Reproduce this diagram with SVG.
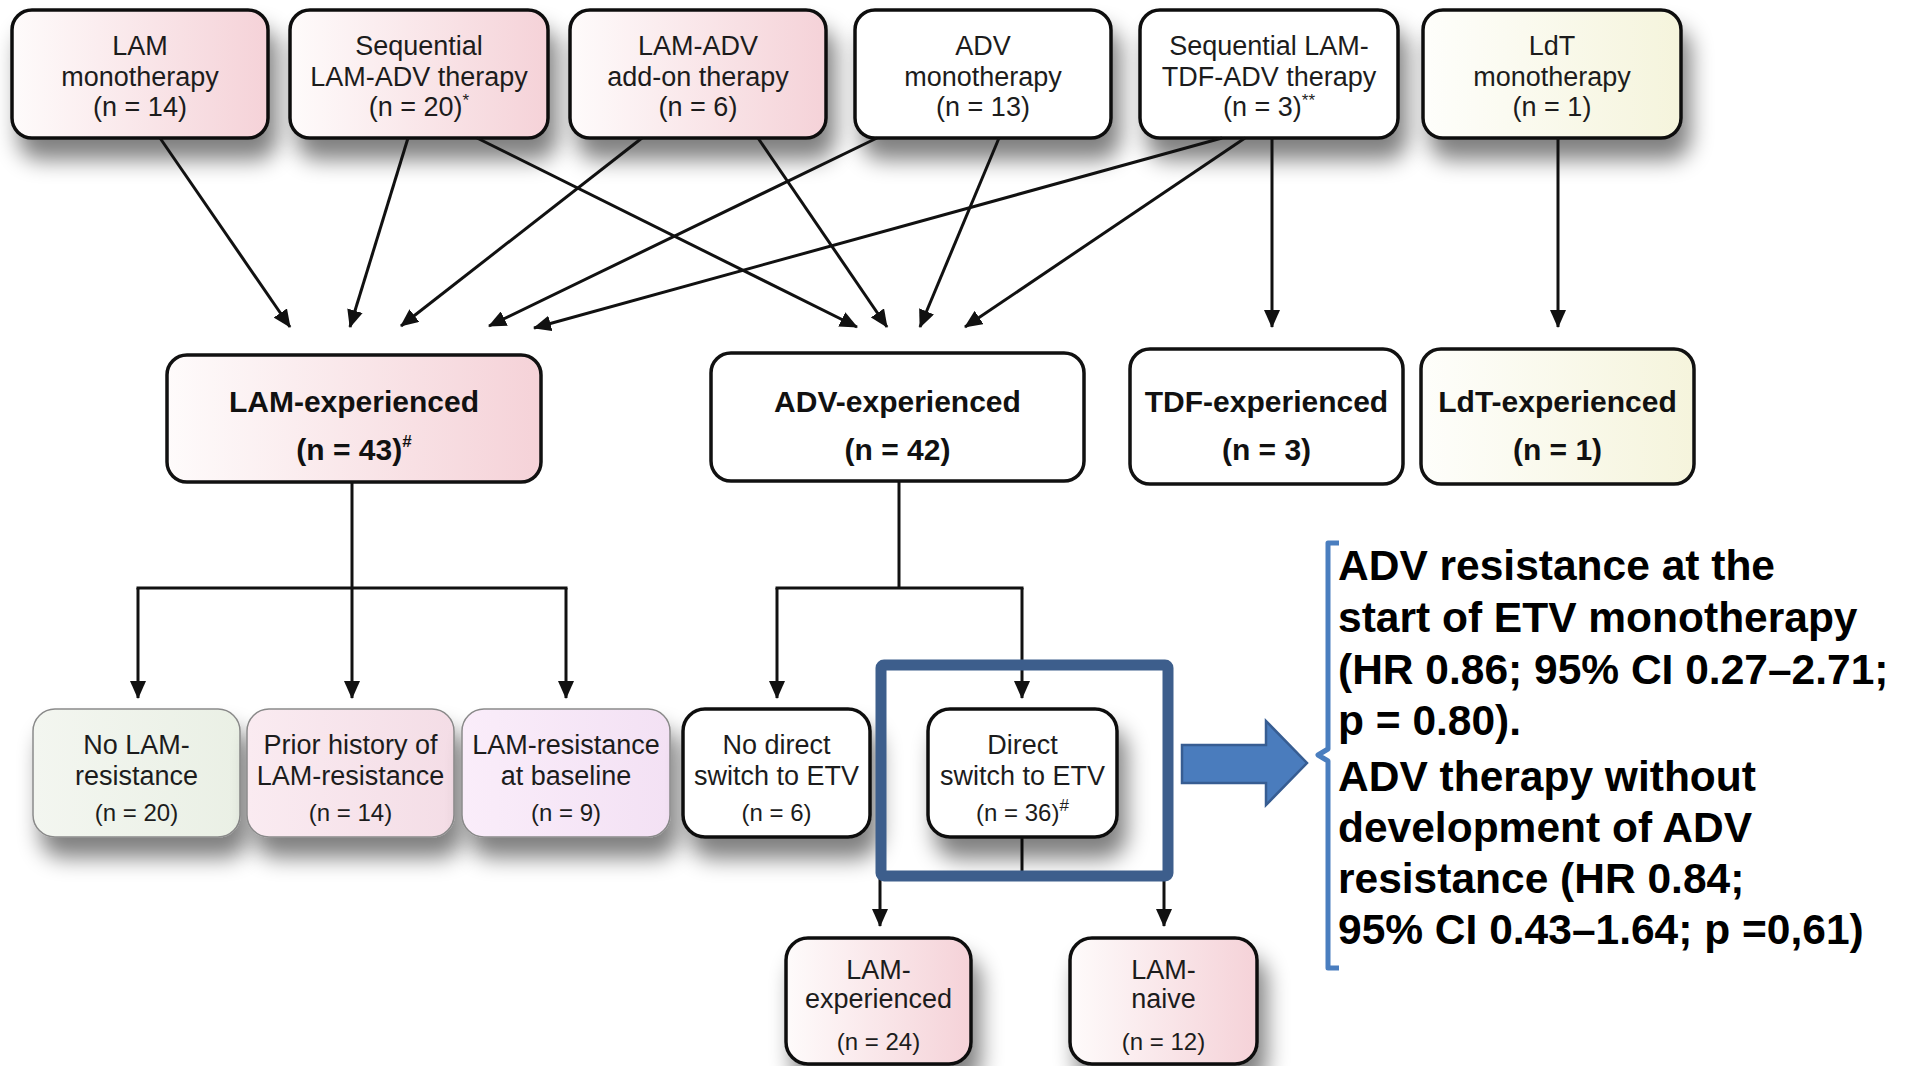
<svg xmlns="http://www.w3.org/2000/svg" width="1910" height="1066" viewBox="0 0 1910 1066">
  <defs>
    <linearGradient id="gPink" x1="0" y1="0" x2="1" y2="0">
      <stop offset="0" stop-color="#fefbfb"/>
      <stop offset="1" stop-color="#f5d2d8"/>
    </linearGradient>
    <linearGradient id="gYellow" x1="0" y1="0" x2="1" y2="0">
      <stop offset="0" stop-color="#fefefb"/>
      <stop offset="1" stop-color="#f5f4dc"/>
    </linearGradient>
    <linearGradient id="gGreen" x1="0" y1="0" x2="1" y2="0">
      <stop offset="0" stop-color="#f3f6f0"/>
      <stop offset="1" stop-color="#eaf0e5"/>
    </linearGradient>
    <linearGradient id="gRose" x1="0" y1="0" x2="1" y2="0">
      <stop offset="0" stop-color="#faebf1"/>
      <stop offset="1" stop-color="#f4dde6"/>
    </linearGradient>
    <linearGradient id="gLilac" x1="0" y1="0" x2="1" y2="0">
      <stop offset="0" stop-color="#faedfa"/>
      <stop offset="1" stop-color="#f3e1f4"/>
    </linearGradient>
    <filter id="shadow" x="-20%" y="-30%" width="150%" height="210%">
      <feGaussianBlur in="SourceAlpha" stdDeviation="11"/>
      <feOffset dx="8" dy="20"/>
      <feComponentTransfer>
        <feFuncA type="linear" slope="0.5"/>
      </feComponentTransfer>
      <feMerge>
        <feMergeNode/>
        <feMergeNode in="SourceGraphic"/>
      </feMerge>
    </filter>
    <marker id="ah" markerUnits="userSpaceOnUse" markerWidth="18" markerHeight="16" viewBox="0 0 18 16" refX="17" refY="8" orient="auto">
      <path d="M0,0 L18,8 L0,16 z" fill="#111"/>
    </marker>
    <style>
      .box { stroke: #111; stroke-width: 3.5; }
      .soft { stroke: #8a8a8a; stroke-width: 1.5; }
      .tn { font-family: "Liberation Sans", Arial, Helvetica, sans-serif; font-size: 27px; text-anchor: middle; fill: #1c1c1c; }
      .ts { font-family: "Liberation Sans", Arial, Helvetica, sans-serif; font-size: 24px; text-anchor: middle; fill: #1c1c1c; }
      .tb { font-family: "Liberation Sans", Arial, Helvetica, sans-serif; font-size: 30px; font-weight: bold; text-anchor: middle; fill: #111; }
      .rt { font-family: "Liberation Sans", Arial, Helvetica, sans-serif; font-size: 42.5px; font-weight: bold; fill: #000; }
      .sup { font-size: 17px; }
      .conn { stroke: #111; stroke-width: 3; fill: none; }
      .arr { marker-end: url(#ah); }
    </style>
  </defs>

  <rect width="1910" height="1066" fill="#ffffff"/>

  <!-- Top row: prior therapy groups -->
  <g id="n-lam-mono">
    <rect class="box" x="12" y="10" width="256" height="128" rx="20" fill="url(#gPink)" filter="url(#shadow)"/>
    <text class="tn" x="140" y="55">LAM</text>
    <text class="tn" x="140" y="86">monotherapy</text>
    <text class="tn" x="140" y="116">(n = 14)</text>
  </g>
  <g id="n-seq-lam-adv">
    <rect class="box" x="290" y="10" width="258" height="128" rx="20" fill="url(#gPink)" filter="url(#shadow)"/>
    <text class="tn" x="419" y="55">Sequential</text>
    <text class="tn" x="419" y="86">LAM-ADV therapy</text>
    <text class="tn" x="419" y="116">(n = 20)<tspan class="sup" dy="-10">*</tspan></text>
  </g>
  <g id="n-lam-adv-addon">
    <rect class="box" x="570" y="10" width="256" height="128" rx="20" fill="url(#gPink)" filter="url(#shadow)"/>
    <text class="tn" x="698" y="55">LAM-ADV</text>
    <text class="tn" x="698" y="86">add-on therapy</text>
    <text class="tn" x="698" y="116">(n = 6)</text>
  </g>
  <g id="n-adv-mono">
    <rect class="box" x="855" y="10" width="256" height="128" rx="20" fill="#ffffff" filter="url(#shadow)"/>
    <text class="tn" x="983" y="55">ADV</text>
    <text class="tn" x="983" y="86">monotherapy</text>
    <text class="tn" x="983" y="116">(n = 13)</text>
  </g>
  <g id="n-seq-lam-tdf-adv">
    <rect class="box" x="1140" y="10" width="258" height="128" rx="20" fill="#ffffff" filter="url(#shadow)"/>
    <text class="tn" x="1269" y="55">Sequential LAM-</text>
    <text class="tn" x="1269" y="86">TDF-ADV therapy</text>
    <text class="tn" x="1269" y="116">(n = 3)<tspan class="sup" dy="-10">**</tspan></text>
  </g>
  <g id="n-ldt-mono">
    <rect class="box" x="1423" y="10" width="258" height="128" rx="20" fill="url(#gYellow)" filter="url(#shadow)"/>
    <text class="tn" x="1552" y="55">LdT</text>
    <text class="tn" x="1552" y="86">monotherapy</text>
    <text class="tn" x="1552" y="116">(n = 1)</text>
  </g>

  <!-- Connectors -->
  <g id="connectors">
    <line class="conn arr" x1="160" y1="138" x2="290" y2="327"/>
    <line class="conn arr" x1="408" y1="138" x2="350" y2="327"/>
    <line class="conn arr" x1="642" y1="138" x2="401" y2="326"/>
    <line class="conn arr" x1="877" y1="138" x2="489" y2="326"/>
    <line class="conn arr" x1="1222" y1="138" x2="534" y2="328"/>
    <line class="conn arr" x1="477" y1="138" x2="857" y2="327"/>
    <line class="conn arr" x1="758" y1="138" x2="887" y2="327"/>
    <line class="conn arr" x1="999" y1="138" x2="920" y2="327"/>
    <line class="conn arr" x1="1245" y1="138" x2="965" y2="327"/>
    <line class="conn arr" x1="1272" y1="138" x2="1272" y2="327"/>
    <line class="conn arr" x1="1558" y1="138" x2="1558" y2="327"/>

    <polyline class="conn" points="352,482 352,588"/>
    <polyline class="conn" points="136.5,588 567.5,588"/>
    <polyline class="conn arr" points="138,588 138,698"/>
    <polyline class="conn arr" points="352,588 352,698"/>
    <polyline class="conn arr" points="566,588 566,698"/>

    <polyline class="conn" points="899,481 899,588"/>
    <polyline class="conn" points="775.5,588 1023.5,588"/>
    <polyline class="conn arr" points="777,588 777,698"/>
    <polyline class="conn arr" points="1022,588 1022,698"/>

    <polyline class="conn" points="1022,837 1022,876"/>
    <polyline class="conn" points="880,876 1164,876"/>
    <polyline class="conn arr" points="880,876 880,926"/>
    <polyline class="conn arr" points="1164,876 1164,926"/>
  </g>

  <!-- Second row: drug experience -->
  <g id="n-lam-exp">
    <rect class="box" x="167" y="355" width="374" height="127" rx="20" fill="url(#gPink)"/>
    <text class="tb" x="354" y="412">LAM-experienced</text>
    <text class="tb" x="354" y="460">(n = 43)<tspan class="sup" dy="-13">#</tspan></text>
  </g>
  <g id="n-adv-exp">
    <rect class="box" x="711" y="353" width="373" height="128" rx="20" fill="#ffffff"/>
    <text class="tb" x="897.5" y="412">ADV-experienced</text>
    <text class="tb" x="897.5" y="460">(n = 42)</text>
  </g>
  <g id="n-tdf-exp">
    <rect class="box" x="1130" y="349" width="273" height="135" rx="20" fill="#ffffff"/>
    <text class="tb" x="1266.5" y="412">TDF-experienced</text>
    <text class="tb" x="1266.5" y="460">(n = 3)</text>
  </g>
  <g id="n-ldt-exp">
    <rect class="box" x="1421" y="349" width="273" height="135" rx="20" fill="url(#gYellow)"/>
    <text class="tb" x="1557.5" y="412">LdT-experienced</text>
    <text class="tb" x="1557.5" y="460">(n = 1)</text>
  </g>

  <!-- Third row: resistance / switch subgroups -->
  <g id="n-no-lam-res">
    <rect class="soft" x="33" y="709" width="207" height="128" rx="22" fill="url(#gGreen)" filter="url(#shadow)"/>
    <text class="tn" x="136.5" y="754">No LAM-</text>
    <text class="tn" x="136.5" y="785">resistance</text>
    <text class="ts" x="136.5" y="821">(n = 20)</text>
  </g>
  <g id="n-prior-lam-res">
    <rect class="soft" x="247" y="709" width="207" height="128" rx="22" fill="url(#gRose)" filter="url(#shadow)"/>
    <text class="tn" x="350.5" y="754">Prior history of</text>
    <text class="tn" x="350.5" y="785">LAM-resistance</text>
    <text class="ts" x="350.5" y="821">(n = 14)</text>
  </g>
  <g id="n-lam-res-baseline">
    <rect class="soft" x="462" y="709" width="208" height="128" rx="22" fill="url(#gLilac)" filter="url(#shadow)"/>
    <text class="tn" x="566" y="754">LAM-resistance</text>
    <text class="tn" x="566" y="785">at baseline</text>
    <text class="ts" x="566" y="821">(n = 9)</text>
  </g>
  <g id="n-no-direct">
    <rect class="box" x="683" y="709" width="187" height="128" rx="22" fill="#ffffff" filter="url(#shadow)"/>
    <text class="tn" x="776.5" y="754">No direct</text>
    <text class="tn" x="776.5" y="785">switch to ETV</text>
    <text class="ts" x="776.5" y="821">(n = 6)</text>
  </g>
  <g id="n-direct">
    <rect class="box" x="928" y="709" width="189" height="128" rx="22" fill="#ffffff" filter="url(#shadow)"/>
    <text class="tn" x="1022.5" y="754">Direct</text>
    <text class="tn" x="1022.5" y="785">switch to ETV</text>
    <text class="ts" x="1022.5" y="821">(n = 36)<tspan class="sup" dy="-10">#</tspan></text>
  </g>

  <!-- Bottom row: LAM status among direct switchers -->
  <g id="n-lam-exp-24">
    <rect class="box" x="786" y="938" width="185" height="126" rx="22" fill="url(#gPink)" filter="url(#shadow)"/>
    <text class="tn" x="878.5" y="979">LAM-</text>
    <text class="tn" x="878.5" y="1008">experienced</text>
    <text class="ts" x="878.5" y="1050">(n = 24)</text>
  </g>
  <g id="n-lam-naive">
    <rect class="box" x="1070" y="938" width="187" height="126" rx="22" fill="url(#gPink)" filter="url(#shadow)"/>
    <text class="tn" x="1163.5" y="979">LAM-</text>
    <text class="tn" x="1163.5" y="1008">naive</text>
    <text class="ts" x="1163.5" y="1050">(n = 12)</text>
  </g>

  <!-- Highlight frame, pointer arrow and bracket -->
  <g id="highlight">
    <rect x="881" y="665" width="287" height="211" rx="3" fill="none" stroke="#3d5e8c" stroke-width="11"/>
    <polygon points="1182,745 1266,745 1266,721 1307,763 1266,805 1266,783 1182,783" fill="#4a7cbd" stroke="#375d92" stroke-width="2.5"/>
    <path d="M1339,543 H1328 V749 L1318,755 L1328,761 V968 H1339" fill="none" stroke="#4a7ebf" stroke-width="5" stroke-linejoin="round"/>
  </g>

  <!-- Hazard ratio notes -->
  <g id="notes">
    <text class="rt" x="1338" y="580">ADV resistance at the</text>
    <text class="rt" x="1338" y="632">start of ETV monotherapy</text>
    <text class="rt" x="1338" y="684">(HR 0.86; 95% CI 0.27–2.71;</text>
    <text class="rt" x="1338" y="735">p = 0.80).</text>
    <text class="rt" x="1338" y="791">ADV therapy without</text>
    <text class="rt" x="1338" y="842">development of ADV</text>
    <text class="rt" x="1338" y="893">resistance (HR 0.84;</text>
    <text class="rt" x="1338" y="944">95% CI 0.43–1.64; p =0,61)</text>
  </g>
</svg>
